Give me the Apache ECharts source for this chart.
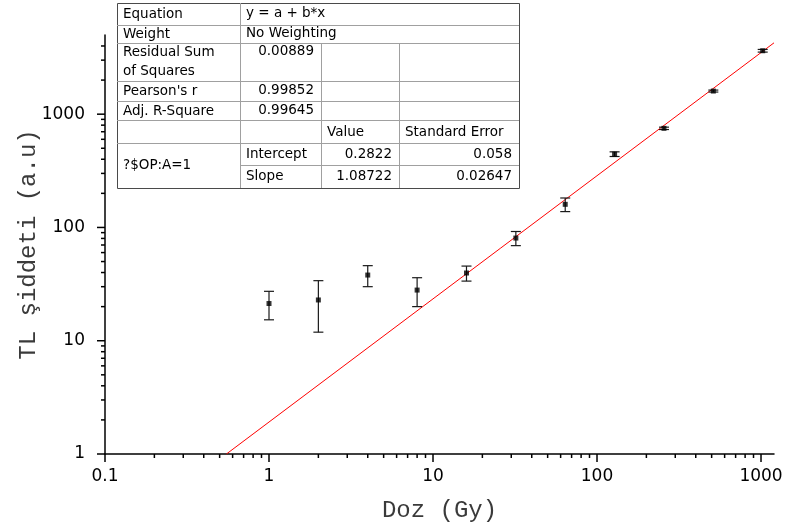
<!DOCTYPE html>
<html>
<head>
<meta charset="utf-8">
<script src="https://cdn.jsdelivr.net/npm/echarts@6/dist/echarts.min.js"></script>
<style>
  html, body { margin: 0; padding: 0; background: #ffffff; }
  #chart { width: 787px; height: 531px; }
</style>
</head>
<body>
<div id="chart"></div>
<script>
// Measured TL intensity versus dose (mean with error)
const doses  = [1, 2, 4, 8, 16, 32, 64, 128, 256, 512, 1024];
const tlMean = [21.3, 22.9, 38, 28, 39.6, 80.6, 160, 444, 750, 1600, 3630];
const tlErr  = [6, 11, 8, 8, 6, 11.5, 22, 21, 18, 32, 98];

// Linear fit in log10-log10 space
const fitEquation = 'y = a + b*x';
const fitWeight = 'No Weighting';
const statLabels = [['Residual Sum', 'of Squares'], ["Pearson's r"], ['Adj. R-Square']];
const statValues = ['0.00889', '0.99852', '0.99645'];
const paramHeader = ['Value', 'Standard Error'];
const paramNames = ['Intercept', 'Slope'];
const paramValues = [0.2822, 1.08722];
const paramErrors = [0.058, 0.02647];
const modelLabel = '?$OP:A=1';

// Axis ranges and titles
const xRange = [0.1, 1200];
const yRange = [1, 5000];
const xTitle = 'Doz (Gy)';
const yTitle = 'TL şiddeti (a.u)';

// Fit line endpoints: from where it crosses y = 1 up to the right edge
const [fitA, fitB] = paramValues;
const fitY = x => Math.pow(10, fitA + fitB * Math.log10(x));
const fitX0 = Math.pow(10, (Math.log10(yRange[0]) - fitA) / fitB);
const fitLine = [[fitX0, yRange[0]], [xRange[1], fitY(xRange[1])]];

// Decade and sub-decade tick positions of a log axis
function logTicks(min, max) {
  const out = [];
  for (let e = Math.floor(Math.log10(min)); Math.pow(10, e) <= max; e++) {
    for (let d = 1; d <= 9; d++) {
      const v = Number((d * Math.pow(10, e)).toPrecision(6));
      if (v >= min * 0.9999 && v <= max * 1.0001) out.push([v, d === 1 ? 1 : 0]);
    }
  }
  return out;
}
const tickData = []
  .concat(logTicks(xRange[0], xRange[1]).map(t => [t[0], yRange[0], 0, t[1]]))
  .concat(logTicks(yRange[0], yRange[1] * 0.85).map(t => [xRange[0], t[0], 1, t[1]]));

const points = doses.map((d, i) => [d, tlMean[i]]);
const bars = doses.map((d, i) => [d, tlMean[i], tlErr[i]]);

// ---- fit results table ----
const TBL = { left: 117, right: 519, top: 3, bottom: 188 };
const colX = [117, 240, 321, 399, 519];
const rowY = [3, 25, 43, 81, 101, 120, 143, 165, 188];
const tFont = '13.5px "DejaVu Sans", sans-serif';
const gridColor = '#a0a0a0';

function tText(str, x, y, align) {
  return {
    type: 'text', x: x, y: y, silent: true, z: 20,
    style: { text: str, font: tFont, fill: '#000', align: align || 'left', verticalAlign: 'middle' }
  };
}
function tLine(x1, y1, x2, y2, color) {
  return {
    type: 'line', silent: true, z: 19,
    shape: { x1: x1, y1: y1, x2: x2, y2: y2 },
    style: { stroke: color || gridColor, lineWidth: 1 }
  };
}

const tableEls = [];
tableEls.push({
  type: 'rect', silent: true, z: 18,
  shape: { x: TBL.left + 0.5, y: TBL.top + 0.5, width: TBL.right - TBL.left, height: TBL.bottom - TBL.top },
  style: { fill: '#ffffff', stroke: '#4a4a4a', lineWidth: 1 }
});
// horizontal rules
[25, 43, 81, 101, 120, 143].forEach(y => tableEls.push(tLine(TBL.left, y + 0.5, TBL.right, y + 0.5)));
tableEls.push(tLine(colX[1], 165.5, TBL.right, 165.5));
// vertical rules
tableEls.push(tLine(colX[1] + 0.5, TBL.top, colX[1] + 0.5, TBL.bottom));
tableEls.push(tLine(colX[2] + 0.5, rowY[2], colX[2] + 0.5, TBL.bottom));
tableEls.push(tLine(colX[3] + 0.5, rowY[2], colX[3] + 0.5, TBL.bottom));

const padL = 6, padR = 7;
tableEls.push(tText('Equation', colX[0] + padL, 14));
tableEls.push(tText(fitEquation, colX[1] + padL, 13));
tableEls.push(tText('Weight', colX[0] + padL, 34));
tableEls.push(tText(fitWeight, colX[1] + padL, 33));
const statRowsY = [[52, 71], [91], [111]];
statLabels.forEach((lines, i) => {
  lines.forEach((ln, j) => tableEls.push(tText(ln, colX[0] + padL, statRowsY[i][j])));
  tableEls.push(tText(statValues[i], colX[2] - padR, statRowsY[i][0] - 1, 'right'));
});
tableEls.push(tText(paramHeader[0], colX[2] + padL, 132));
tableEls.push(tText(paramHeader[1], colX[3] + padL, 132));
const paramRowY = [154, 176];
paramNames.forEach((nm, i) => {
  tableEls.push(tText(nm, colX[1] + padL, paramRowY[i]));
  tableEls.push(tText(String(paramValues[i]), colX[3] - padR, paramRowY[i], 'right'));
  tableEls.push(tText(String(paramErrors[i]), colX[4] - padR, paramRowY[i], 'right'));
});
tableEls.push(tText(modelLabel, colX[0] + padL, 165));

const chart = echarts.init(document.getElementById('chart'), null, { renderer: 'canvas' });

const axisFont = { fontFamily: '"DejaVu Sans", sans-serif', fontSize: 17, color: '#000' };
const titleFont = { fontFamily: '"Liberation Mono", "DejaVu Sans Mono", monospace', fontSize: 24, color: '#3a3a3a' };
const plainNumber = v => String(Number(v.toPrecision(6)));

chart.setOption({
  animation: false,
  backgroundColor: '#ffffff',
  grid: { left: 105, right: 13, top: 35, bottom: 77, containLabel: false, outerBoundsMode: 'none' },
  xAxis: {
    type: 'log', logBase: 10, min: xRange[0], max: xRange[1],
    name: xTitle, nameLocation: 'middle', nameGap: 45, nameMoveOverlap: false, nameTextStyle: titleFont,
    axisLine: { show: true, onZero: false, lineStyle: { color: '#000', width: 1.5 } },
    axisTick: { show: false }, minorTick: { show: false },
    splitLine: { show: false },
    axisLabel: Object.assign({ margin: 14, showMaxLabel: false, showMinLabel: true, formatter: plainNumber }, axisFont)
  },
  yAxis: {
    type: 'log', logBase: 10, min: yRange[0], max: yRange[1],
    name: yTitle, nameLocation: 'middle', nameGap: 64, nameRotate: 90, nameMoveOverlap: false, nameTextStyle: titleFont,
    axisLine: { show: true, onZero: false, lineStyle: { color: '#000', width: 1.5 } },
    axisTick: { show: false }, minorTick: { show: false },
    splitLine: { show: false },
    axisLabel: Object.assign({ margin: 20, showMaxLabel: false, showMinLabel: true, formatter: plainNumber }, axisFont)
  },
  graphic: tableEls,
  series: [
    {
      // axis tick marks at 1..9 x 10^n, pointing outward
      type: 'custom', name: 'ticks', silent: true, clip: false, z: 3,
      data: tickData,
      renderItem: function (params, api) {
        const p = api.coord([api.value(0), api.value(1)]);
        const len = api.value(3) ? 8 : 4;
        const vertical = api.value(2) === 0;
        return {
          type: 'line',
          shape: vertical
            ? { x1: p[0], y1: p[1], x2: p[0], y2: p[1] + len }
            : { x1: p[0], y1: p[1], x2: p[0] - len, y2: p[1] },
          style: { stroke: '#000', lineWidth: 1.5 }
        };
      }
    },
    {
      type: 'line', name: 'fit', data: fitLine, showSymbol: false, silent: true,
      lineStyle: { color: '#ff0000', width: 1 }, z: 4
    },
    {
      type: 'custom', name: 'error', silent: true, z: 5,
      data: bars,
      renderItem: function (params, api) {
        const x = api.value(0), y = api.value(1), e = api.value(2);
        const top = api.coord([x, y + e]);
        const bot = api.coord([x, y - e]);
        const w = 5;
        const st = { stroke: '#1a1a1a', lineWidth: 1.2 };
        return {
          type: 'group',
          children: [
            { type: 'line', shape: { x1: top[0], y1: top[1], x2: bot[0], y2: bot[1] }, style: st },
            { type: 'line', shape: { x1: top[0] - w, y1: top[1], x2: top[0] + w, y2: top[1] }, style: st },
            { type: 'line', shape: { x1: bot[0] - w, y1: bot[1], x2: bot[0] + w, y2: bot[1] }, style: st }
          ]
        };
      }
    },
    {
      type: 'scatter', name: 'TL', data: points, symbol: 'rect', symbolSize: 5,
      itemStyle: { color: '#000' }, silent: true, z: 6
    }
  ]
});
</script>
</body>
</html>
